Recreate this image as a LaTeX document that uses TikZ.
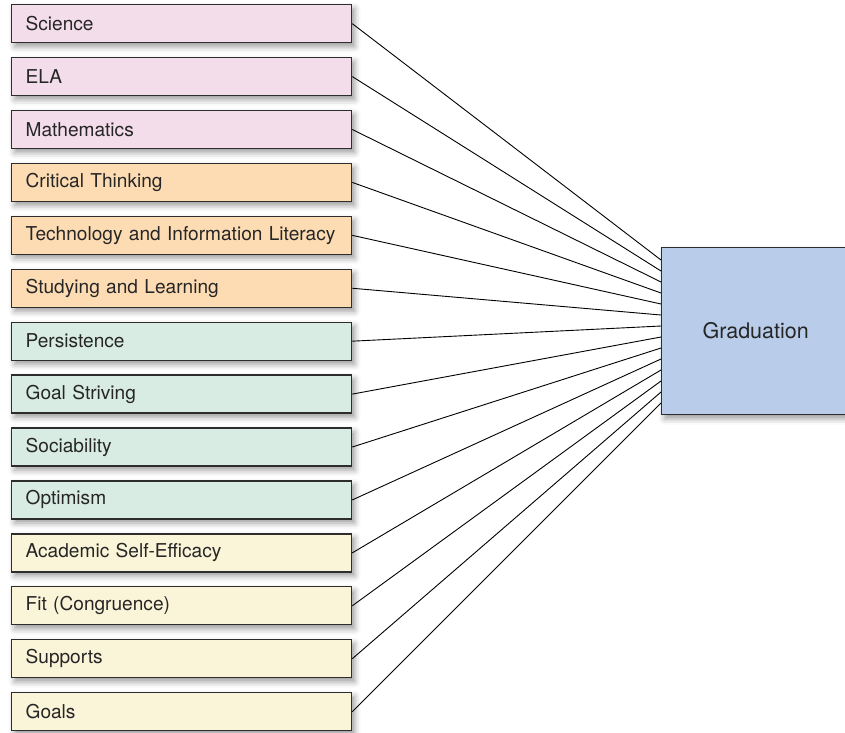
\documentclass[tikz,border=0pt]{standalone}
\usepackage{fontspec}
\setmainfont{TeX Gyre Heros}
\usetikzlibrary{shadows.blur}
\definecolor{pinkc}{RGB}{243,221,234}
\definecolor{orangec}{RGB}{253,220,180}
\definecolor{greenc}{RGB}{217,236,228}
\definecolor{yellowc}{RGB}{250,244,216}
\definecolor{bluec}{RGB}{185,205,234}
\definecolor{edgec}{RGB}{45,45,45}
\begin{document}
\begin{tikzpicture}[x=1pt,y=-1pt,
  shad/.style={blur shadow={shadow xshift=3pt, shadow yshift=-4pt, shadow blur radius=6pt, shadow opacity=40}},
  lbl/.style={draw=edgec, line width=1.3pt, text width=312pt, inner xsep=14pt, inner ysep=0pt,
    minimum height=38pt, anchor=north west, align=left, text=black!85,
    font=\fontsize{19.1}{22}\selectfont, shad},
  gbox/.style={draw=edgec, line width=1.3pt, fill=bluec, minimum width=188pt, minimum height=167pt,
    anchor=north west, inner sep=0pt, text=black!85, font=\fontsize{21.5}{25}\selectfont, shad},
  conn/.style={line width=0.9pt, black}]
\useasboundingbox (0,0) rectangle (845,732);
\def\sp{52.92}
\node[lbl, fill=pinkc] (n1) at (11,{4+0*\sp}) {Science};
\node[lbl, fill=pinkc] (n2) at (11,{4+1*\sp}) {ELA};
\node[lbl, fill=pinkc] (n3) at (11,{4+2*\sp}) {Mathematics};
\node[lbl, fill=orangec] (n4) at (11,{4+3*\sp}) {Critical Thinking};
\node[lbl, fill=orangec] (n5) at (11,{4+4*\sp}) {Technology and Information Literacy};
\node[lbl, fill=orangec] (n6) at (11,{4+5*\sp}) {Studying and Learning};
\node[lbl, fill=greenc] (n7) at (11,{4+6*\sp}) {Persistence};
\node[lbl, fill=greenc] (n8) at (11,{4+7*\sp}) {Goal Striving};
\node[lbl, fill=greenc] (n9) at (11,{4+8*\sp}) {Sociability};
\node[lbl, fill=greenc] (n10) at (11,{4+9*\sp}) {Optimism};
\node[lbl, fill=yellowc] (n11) at (11,{4+10*\sp}) {Academic Self-Efficacy};
\node[lbl, fill=yellowc] (n12) at (11,{4+11*\sp}) {Fit (Congruence)};
\node[lbl, fill=yellowc] (n13) at (11,{4+12*\sp}) {Supports};
\node[lbl, fill=yellowc] (n14) at (11,{4+13*\sp}) {Goals};
\node[gbox] (g) at (661,247) {Graduation};
\foreach \i in {1,...,14}{
  \coordinate (e\i) at (661,{260+11*(\i-1)});
  \draw[conn] (n\i.east) -- (e\i);
}
\end{tikzpicture}
\end{document}
